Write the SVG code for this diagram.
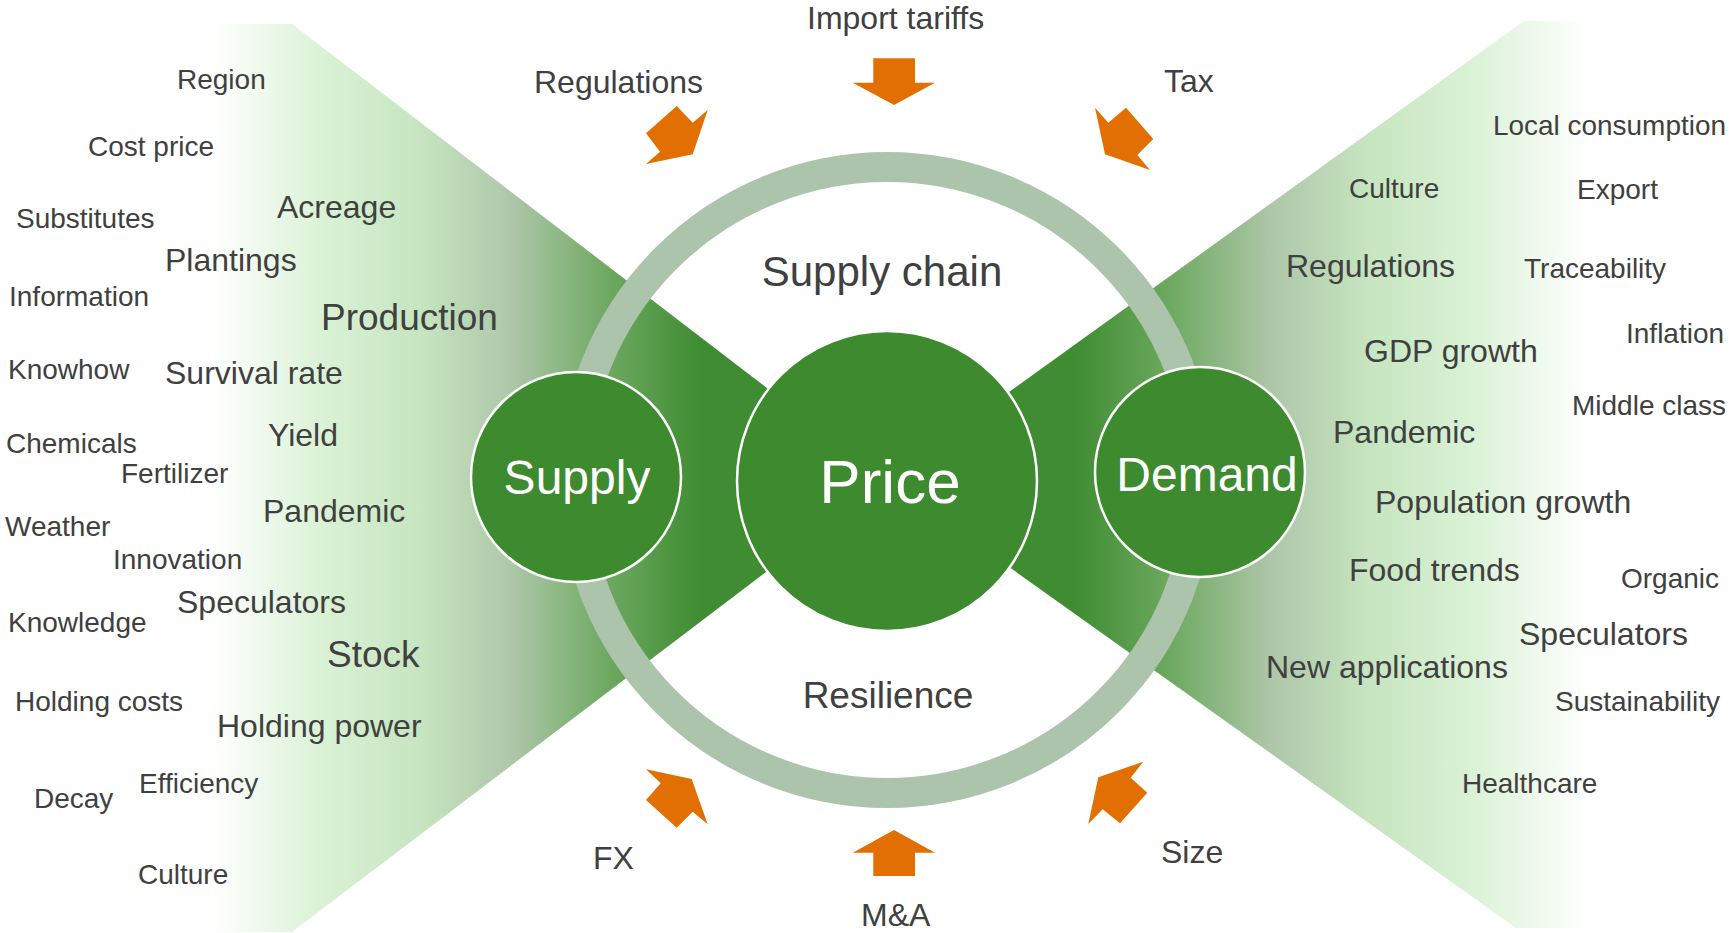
<svg xmlns="http://www.w3.org/2000/svg" width="1729" height="933" viewBox="0 0 1729 933">
  <defs>
    <linearGradient id="fadeLeft" gradientUnits="userSpaceOnUse" x1="210" y1="0" x2="700" y2="0">
      <stop offset="0" stop-color="#ffffff"/>
      <stop offset="0.245" stop-color="#d8f1d3"/>
      <stop offset="0.43" stop-color="#c6e5c0"/>
      <stop offset="0.62" stop-color="#adc6a8"/>
      <stop offset="0.82" stop-color="#6ba85e"/>
      <stop offset="1" stop-color="#3f8c32"/>
    </linearGradient>
    <linearGradient id="fadeRight" gradientUnits="userSpaceOnUse" x1="1590" y1="0" x2="1074" y2="0">
      <stop offset="0" stop-color="#ffffff"/>
      <stop offset="0.245" stop-color="#d8f1d3"/>
      <stop offset="0.43" stop-color="#c6e5c0"/>
      <stop offset="0.62" stop-color="#adc6a8"/>
      <stop offset="0.82" stop-color="#6ba85e"/>
      <stop offset="1" stop-color="#3f8c32"/>
    </linearGradient>
    <style>
      text { font-family: "Liberation Sans", Arial, sans-serif; fill: #404040; }
      .s { font-size: 28px; }
      .m { font-size: 32px; }
      .l { font-size: 37px; }
      .xl { font-size: 42px; }
      .hub { fill: #3d8a2f; stroke: #ffffff; stroke-width: 2.5; }
      .hubtxt { fill: #ffffff; text-anchor: middle; }
      .push { fill: #e26f02; }
    </style>
  </defs>

  <rect width="1729" height="933" fill="#ffffff"/>

  <!-- funnels converging on the price centre -->
  <polygon points="0,24 292,24 887,480 292,932 0,932" fill="url(#fadeLeft)"/>
  <polygon points="1729,21 1524,21 887,480 1516,928 1729,928" fill="url(#fadeRight)"/>

  <!-- market ring -->
  <circle cx="887" cy="480" r="313" fill="none" stroke="#acc4ab" stroke-width="30"/>

  <!-- ring labels -->
  <text class="xl" x="882" y="286" text-anchor="middle">Supply chain</text>
  <text class="l" x="888" y="708" text-anchor="middle">Resilience</text>

  <!-- external pressures -->
  <g id="connectors">
    <polygon class="push" points="676.7,106 692.7,122.7 707.7,110 692.7,154.3 646,164 660,151.7 646,133.3"/>
    <polygon class="push" points="873.3,58.3 915,58.3 915,82.7 935,82.7 894,105 852.7,82.7 873.3,82.7"/>
    <polygon class="push" points="1095,107.7 1108.3,122.7 1126,107.7 1153.3,139 1137.3,155 1150,170 1105,154.3"/>
    <polygon class="push" points="646,769.3 691.7,779 707.7,824.3 692.7,811.7 676.7,827.7 646,800 660.7,783.3"/>
    <polygon class="push" points="894,830 935,852.7 915,852.7 915,876 873.3,876 873.3,852.7 852.7,852.7"/>
    <polygon class="push" points="1143.3,761.7 1130.7,777.7 1147.3,792.7 1120,823.3 1102.7,809.3 1088.3,824 1098.3,777.3"/>
  </g>
  <g id="pressure-labels">
    <text class="m" x="807" y="29">Import tariffs</text>
    <text class="m" x="534" y="93">Regulations</text>
    <text class="m" x="1164" y="92">Tax</text>
    <text class="m" x="593" y="869">FX</text>
    <text class="m" x="861" y="926">M&amp;A</text>
    <text class="m" x="1161" y="863">Size</text>
  </g>

  <!-- hubs -->
  <g id="supply">
    <circle class="hub" cx="576" cy="477" r="105"/>
    <text class="hubtxt" x="577" y="494" font-size="48">Supply</text>
  </g>
  <g id="price">
    <circle class="hub" cx="887" cy="481" r="150"/>
    <text class="hubtxt" x="890" y="503" font-size="62">Price</text>
  </g>
  <g id="demand">
    <circle class="hub" cx="1200" cy="472" r="105"/>
    <text class="hubtxt" x="1207" y="491" font-size="48">Demand</text>
  </g>

  <!-- supply drivers -->
  <g id="supply-drivers">
    <text class="s" x="177" y="89">Region</text>
    <text class="s" x="88" y="156">Cost price</text>
    <text class="s" x="16" y="228">Substitutes</text>
    <text class="m" x="277" y="218">Acreage</text>
    <text class="m" x="165" y="271">Plantings</text>
    <text class="s" x="9" y="306">Information</text>
    <text class="l" x="321" y="330">Production</text>
    <text class="s" x="8" y="379">Knowhow</text>
    <text class="m" x="165" y="384">Survival rate</text>
    <text class="s" x="6" y="453">Chemicals</text>
    <text class="m" x="268" y="446">Yield</text>
    <text class="s" x="121" y="483">Fertilizer</text>
    <text class="m" x="263" y="522">Pandemic</text>
    <text class="s" x="5" y="536">Weather</text>
    <text class="s" x="113" y="569">Innovation</text>
    <text class="m" x="177" y="613">Speculators</text>
    <text class="s" x="8" y="632">Knowledge</text>
    <text class="l" x="327" y="667">Stock</text>
    <text class="s" x="15" y="711">Holding costs</text>
    <text class="m" x="217" y="737">Holding power</text>
    <text class="s" x="139" y="793">Efficiency</text>
    <text class="s" x="34" y="808">Decay</text>
    <text class="s" x="138" y="884">Culture</text>
  </g>

  <!-- demand drivers -->
  <g id="demand-drivers">
    <text class="s" x="1493" y="135" textLength="233" lengthAdjust="spacingAndGlyphs">Local consumption</text>
    <text class="s" x="1349" y="198">Culture</text>
    <text class="s" x="1577" y="199">Export</text>
    <text class="m" x="1286" y="277">Regulations</text>
    <text class="s" x="1524" y="278">Traceability</text>
    <text class="s" x="1626" y="343">Inflation</text>
    <text class="m" x="1364" y="362">GDP growth</text>
    <text class="s" x="1572" y="415">Middle class</text>
    <text class="m" x="1333" y="443">Pandemic</text>
    <text class="m" x="1375" y="513">Population growth</text>
    <text class="m" x="1349" y="581">Food trends</text>
    <text class="s" x="1621" y="588">Organic</text>
    <text class="m" x="1519" y="645">Speculators</text>
    <text class="m" x="1266" y="678">New applications</text>
    <text class="s" x="1555" y="711">Sustainability</text>
    <text class="s" x="1462" y="793">Healthcare</text>
  </g>
</svg>
